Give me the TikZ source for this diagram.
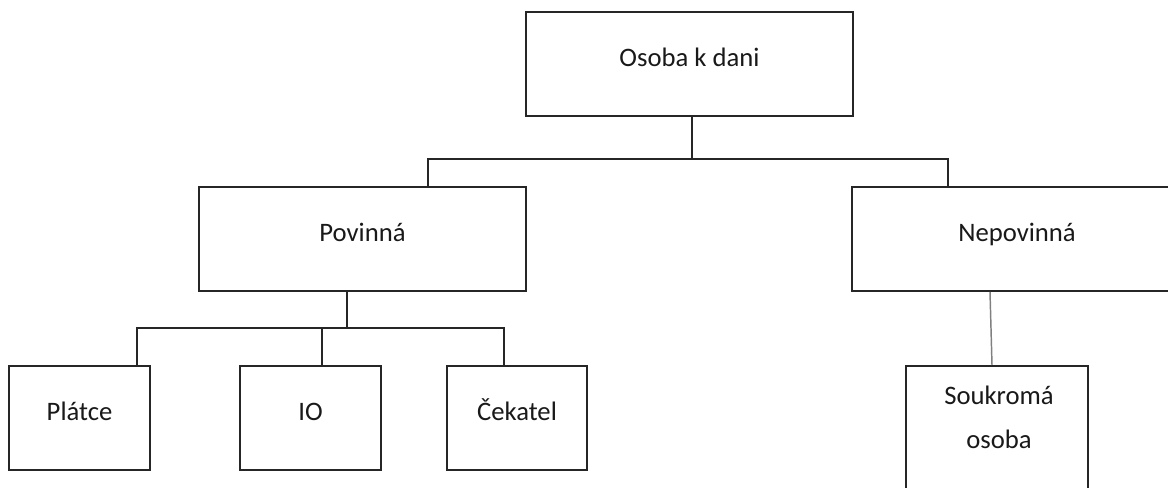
\documentclass[tikz,border=0pt]{standalone}
\usepackage{fontspec}
\setmainfont{Carlito}
\usetikzlibrary{calc}
\begin{document}
\begin{tikzpicture}[x=0.75pt,y=-0.75pt,
  box/.style={draw=black!85, line width=1.4pt, fill=white, inner sep=0pt,
    text height=14pt, text depth=10pt, font=\fontsize{20}{33}\selectfont, text=black!90},
  conn/.style={draw=black!85, line width=1.4pt},
  thinconn/.style={draw=black!50, line width=1.1pt}]
\useasboundingbox (0,0) rectangle (1168,488);
\clip (0,0) rectangle (1168,488);
\fill[white] (0,0) rectangle (1168,488);
% boxes
\node[box, minimum width=327*0.75pt, minimum height=104*0.75pt] (osoba) at (689.5,64) {Osoba k dani};
\node[box, minimum width=327*0.75pt, minimum height=104*0.75pt] (povinna) at (362.5,239) {Povinná};
\node[box, minimum width=330*0.75pt, minimum height=104*0.75pt] (nepovinna) at (1017,239) {Nepovinná};
\node[box, minimum width=141*0.75pt, minimum height=104*0.75pt] (platce) at (79.5,418) {Plátce};
\node[box, minimum width=141*0.75pt, minimum height=104*0.75pt] (io) at (310.5,418) {IO};
\node[box, minimum width=140*0.75pt, minimum height=104*0.75pt] (cekatel) at (517,418) {Čekatel};
\node[draw=black!85, line width=1.4pt, inner sep=0pt, anchor=north,
      minimum width=182*0.75pt, minimum height=160*0.75pt] (soukroma) at (997,365) {};
\node[inner sep=0pt, anchor=north, align=center, font=\fontsize{20}{33}\selectfont, text=black!90]
  (soukromaText) at (999,386) {Soukromá\\osoba};
% connectors
\coordinate (pIn) at ($(povinna.north)+(65.5,0)$);
\coordinate (nIn) at ($(nepovinna.north)+(-69,0)$);
\coordinate (oOut) at ($(osoba.south)+(2.5,0)$);
\coordinate (j1) at (oOut |- 0,159);
\draw[conn] (oOut) -- (j1);
\draw[conn] (pIn) |- (j1) -| (nIn);
\coordinate (pOut) at ($(povinna.south)+(-15.5,0)$);
\coordinate (j2) at ($(pOut)+(0,36)$);
\draw[conn] (pOut) -- (j2);
\coordinate (plIn) at ($(platce.north)+(57.5,0)$);
\coordinate (ioIn) at ($(io.north)+(11.5,0)$);
\coordinate (ceIn) at ($(cekatel.north)+(-13,0)$);
\draw[conn] (plIn) |- (j2) -| (ceIn);
\draw[conn] (ioIn) -- (ioIn |- j2);
\draw[thinconn] ($(nepovinna.south)+(-27,0)$) -- ($(soukroma.north)+(-5,0)$);
\end{tikzpicture}
\end{document}
